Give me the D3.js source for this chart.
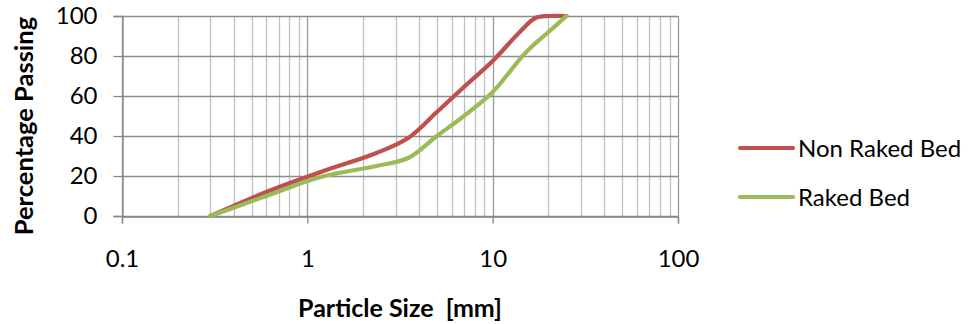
<!DOCTYPE html>
<html><head><meta charset="utf-8">
<script src="https://cdn.jsdelivr.net/npm/d3@7"></script>
<style>html,body{margin:0;padding:0;background:#fff}svg{display:block}</style>
</head><body>
<script>
const nonRakedSizes = [0.3, 0.6, 1.18, 2.36, 3.5, 5, 7, 10, 14, 17, 20, 25];
const nonRaked = [0, 12, 22, 31.5, 39, 52, 64.5, 77.5, 92, 99, 100, 100];
const rakedSizes = [0.3, 0.6, 1.18, 2.36, 3.5, 5, 7, 10, 15, 20, 25];
const raked = [0, 10, 19.5, 25, 29, 40, 50, 62, 81.5, 92, 100];
const seriesNames = ["Non Raked Bed", "Raked Bed"];
const seriesColors = ["#C0504D", "#9BBB59"];
const xTicks = [0.1, 1, 10, 100];
const yTicks = [0, 20, 40, 60, 80, 100];
const xTitle = "Particle Size  [mm]";
const yTitle = "Percentage Passing";

const W = 968, H = 324;
const m = {l: 122, r: 678, t: 16, b: 216};
const svg = d3.select("body").append("svg").attr("width", W).attr("height", H);
const FONT = "Lato, 'Open Sans', sans-serif";

const x = d3.scaleLog().domain([0.1, 100]).range([m.l, m.r]);
const y = d3.scaleLinear().domain([0, 100]).range([m.b, m.t]);

// minor vertical gridlines
const minor = [];
for (let d = 0.1; d < 100; d *= 10) for (let k = 2; k <= 9; k++) minor.push(d * k);
svg.append("g").selectAll("line").data(minor).join("line")
  .attr("x1", d => Math.round(x(d)) + 0.5).attr("x2", d => Math.round(x(d)) + 0.5)
  .attr("y1", m.t).attr("y2", m.b).attr("stroke", "#BFBFBF").attr("stroke-width", 1.3);
// major vertical gridlines
svg.append("g").selectAll("line").data(xTicks).join("line")
  .attr("x1", d => Math.round(x(d)) + 0.5).attr("x2", d => Math.round(x(d)) + 0.5)
  .attr("y1", m.t).attr("y2", m.b).attr("stroke", "#9A9A9A").attr("stroke-width", 1.3);
// horizontal gridlines
svg.append("g").selectAll("line").data(yTicks).join("line")
  .attr("x1", m.l).attr("x2", m.r)
  .attr("y1", d => Math.round(y(d)) + 0.5).attr("y2", d => Math.round(y(d)) + 0.5)
  .attr("stroke", "#8C8C8C").attr("stroke-width", 1.3);

// axes
const xAxis = svg.append("g").attr("transform", `translate(0,${Math.round(m.b) + 0.5})`)
  .call(d3.axisBottom(x).tickValues(xTicks).tickFormat(d3.format("")).tickSize(7).tickPadding(26));
const yAxis = svg.append("g").attr("transform", `translate(${m.l + 0.5},0)`)
  .call(d3.axisLeft(y).tickValues(yTicks).tickSize(9).tickPadding(16));
[xAxis, yAxis].forEach(a => {
  a.select(".domain").attr("stroke", "#868686").attr("stroke-width", 1.3);
  a.selectAll(".tick line").attr("stroke", "#868686").attr("stroke-width", 1.3);
  a.selectAll("text").attr("font-family", FONT).attr("font-size", 24).attr("fill", "#000");
});

// lines
const line = d3.line().x(d => x(d[0])).y(d => y(d[1])).curve(d3.curveCatmullRom.alpha(0.5));
const data = [
  nonRakedSizes.map((s, i) => [s, nonRaked[i]]),
  rakedSizes.map((s, i) => [s, raked[i]])
];
svg.append("g").selectAll("path").data(data).join("path")
  .attr("d", line).attr("fill", "none")
  .attr("stroke", (d, i) => seriesColors[i]).attr("stroke-width", 4.2)
  .attr("stroke-linecap", "round").attr("stroke-linejoin", "round");

// axis titles
svg.append("text").attr("x", 400).attr("y", 317).attr("text-anchor", "middle")
  .style("white-space", "pre")
  .attr("font-family", FONT).attr("font-weight", "bold").attr("font-size", 25).text(xTitle);
svg.append("text").attr("transform", "translate(33,126) rotate(-90)").attr("text-anchor", "middle")
  .attr("font-family", FONT).attr("font-weight", "bold").attr("font-size", 25.5).text(yTitle);

// legend
const lg = svg.append("g").selectAll("g").data(seriesNames).join("g")
  .attr("transform", (d, i) => `translate(740,${148 + i * 49})`);
lg.append("line").attr("x1", 0).attr("x2", 53).attr("y1", 0).attr("y2", 0)
  .attr("stroke", (d, i) => seriesColors[i]).attr("stroke-width", 4.2).attr("stroke-linecap", "round");
lg.append("text").attr("x", 58).attr("y", 8.5).attr("font-family", FONT).attr("font-size", 24)
  .text(d => d);
</script>
</body></html>
